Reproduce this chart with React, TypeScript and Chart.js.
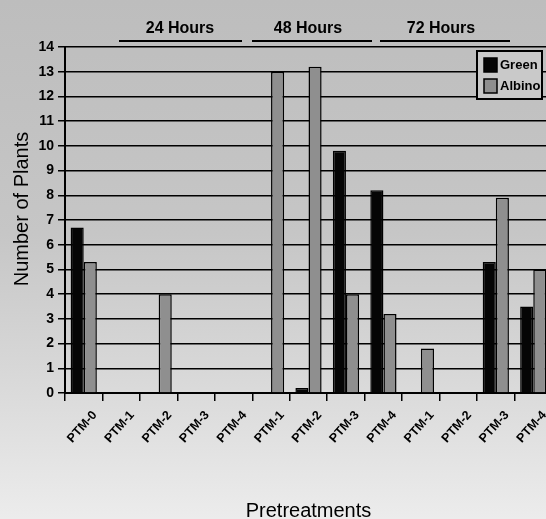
import React, { useEffect, useRef } from "react";
import { Chart, registerables } from "chart.js";

Chart.register(...registerables);

const categories = [
  "PTM-0", "PTM-1", "PTM-2", "PTM-3", "PTM-4",
  "PTM-1", "PTM-2", "PTM-3", "PTM-4",
  "PTM-1", "PTM-2", "PTM-3", "PTM-4",
];
const greenValues = [6.7, 0, 0, 0, 0, 0, 0.2, 9.8, 8.2, 0, 0, 5.3, 3.5];
const albinoValues = [5.3, 0, 4.0, 0, 0, 13.0, 13.2, 4.0, 3.2, 1.8, 0, 7.9, 5.0];
const seriesNames = ["Green", "Albino"];
const groupLabels = ["24 Hours", "48 Hours", "72 Hours"];
const yMin = 0;
const yMax = 14;

const FONT = "'Liberation Sans', Arial, Helvetica, sans-serif";

const decorPlugin = {
  id: "decor",
  afterDraw(chart: any) {
    const ctx = chart.ctx;
    ctx.save();
    const groupPos = [
      { cx: 180, x1: 119, x2: 242 },
      { cx: 308, x1: 252, x2: 372 },
      { cx: 441, x1: 380, x2: 510 },
    ];
    ctx.fillStyle = "#000";
    ctx.strokeStyle = "#000";
    ctx.font = `bold 16px ${FONT}`;
    ctx.textAlign = "center";
    ctx.textBaseline = "alphabetic";
    groupLabels.forEach((t, i) => {
      const g = groupPos[i];
      ctx.fillText(t, g.cx, 33);
      ctx.lineWidth = 2;
      ctx.beginPath();
      ctx.moveTo(g.x1, 41);
      ctx.lineTo(g.x2, 41);
      ctx.stroke();
    });

    ctx.save();
    ctx.translate(22, 209);
    ctx.rotate(-Math.PI / 2);
    ctx.font = `20px ${FONT}`;
    ctx.textAlign = "center";
    ctx.textBaseline = "middle";
    ctx.fillText("Number of Plants", 0, 0);
    ctx.restore();

    const bx = 477, by = 51, bw = 65, bh = 48;
    ctx.fillStyle = "#c9c9c9";
    ctx.fillRect(bx, by, bw, bh);
    ctx.lineWidth = 2;
    ctx.strokeRect(bx, by, bw, bh);
    chart.data.datasets.forEach((ds: any, i: number) => {
      const sy = by + 7 + i * 21;
      ctx.fillStyle = ds.backgroundColor;
      ctx.fillRect(bx + 7, sy, 13, 14);
      ctx.lineWidth = 1.5;
      ctx.strokeStyle = "#000";
      ctx.strokeRect(bx + 7, sy, 13, 14);
      ctx.fillStyle = "#000";
      ctx.font = `bold 13px ${FONT}`;
      ctx.textAlign = "left";
      ctx.textBaseline = "middle";
      ctx.fillText(ds.label, bx + 23, sy + 7);
    });
    ctx.restore();
  },
};

export default function App() {
  const ref = useRef<HTMLCanvasElement>(null);

  useEffect(() => {
    if (!ref.current) return;
    const chart = new Chart(ref.current, {
      type: "bar",
      data: {
        labels: categories,
        datasets: [
          {
            label: seriesNames[0],
            data: greenValues,
            backgroundColor: "#050505",
            borderColor: "#000",
            borderWidth: 1.5,
            categoryPercentage: 0.7,
            barPercentage: 1.0,
          },
          {
            label: seriesNames[1],
            data: albinoValues,
            backgroundColor: "#8f8f8f",
            borderColor: "#000",
            borderWidth: 1.5,
            categoryPercentage: 0.7,
            barPercentage: 1.0,
          },
        ],
      },
      options: {
        animation: false,
        responsive: false,
        maintainAspectRatio: false,
        devicePixelRatio: 1,
        layout: { padding: { top: 47, right: 8, left: 0, bottom: 0 } },
        plugins: {
          legend: { display: false },
          tooltip: { enabled: false },
        },
        scales: {
          x: {
            type: "category",
            offset: true,
            afterFit: (s: any) => {
              s.height = 126;
            },
            grid: {
              display: true,
              drawOnChartArea: false,
              drawTicks: true,
              tickLength: 8,
              color: "#000",
              lineWidth: 1.5,
              offset: true,
            },
            border: { display: true, color: "#000", width: 2 },
            ticks: {
              autoSkip: false,
              minRotation: 48,
              maxRotation: 48,
              labelOffset: 11,
              padding: 7,
              color: "#000",
              font: { family: FONT, size: 12.5, weight: "bold" },
            },
            title: {
              display: true,
              text: "Pretreatments",
              color: "#000",
              font: { family: FONT, size: 20 },
              padding: { top: 0, bottom: -4 },
            },
          },
          y: {
            min: yMin,
            max: yMax,
            afterFit: (s: any) => {
              s.width = 65;
            },
            grid: {
              display: true,
              drawOnChartArea: true,
              drawTicks: true,
              tickLength: 7,
              color: "#000",
              lineWidth: 1.5,
            },
            border: { display: true, color: "#000", width: 2 },
            ticks: {
              stepSize: 1,
              padding: 4,
              color: "#000",
              font: { family: FONT, size: 14, weight: "bold" },
            },
          },
        },
      },
      plugins: [decorPlugin],
    });
    return () => chart.destroy();
  }, []);

  return (
    <div
      style={{
        position: "absolute",
        left: 0,
        top: 0,
        width: 546,
        height: 519,
        overflow: "hidden",
        background: "linear-gradient(#bdbdbd 0%, #c6c6c6 45%, #dadada 75%, #ececec 100%)",
      }}
    >
      <canvas ref={ref} width={560} height={519} style={{ width: 560, height: 519, display: "block" }} />
    </div>
  );
}
